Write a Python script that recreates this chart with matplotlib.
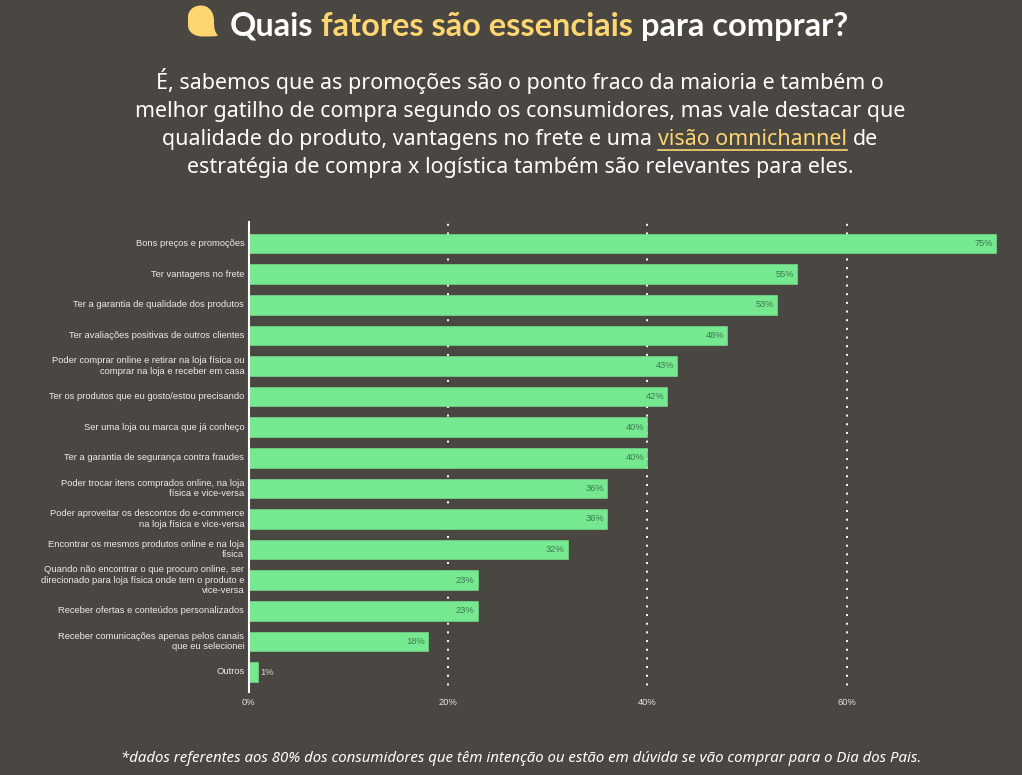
import matplotlib
matplotlib.use("Agg")
import matplotlib.pyplot as plt
from matplotlib.path import Path
from matplotlib.patches import PathPatch

BG = '#4a4641'
GREEN = '#76e88f'
YELLOW = '#fdd671'
WHITE = '#ffffff'

categories = [
    'Bons preços e promoções',
    'Ter vantagens no frete',
    'Ter a garantia de qualidade dos produtos',
    'Ter avaliações positivas de outros clientes',
    'Poder comprar online e retirar na loja física ou\ncomprar na loja e receber em casa',
    'Ter os produtos que eu gosto/estou precisando',
    'Ser uma loja ou marca que já conheço',
    'Ter a garantia de segurança contra fraudes',
    'Poder trocar itens comprados online, na loja\nfísica e vice-versa',
    'Poder aproveitar os descontos do e-commerce\nna loja física e vice-versa',
    'Encontrar os mesmos produtos online e na loja\nfísica',
    'Quando não encontrar o que procuro online, ser\ndirecionado para loja física onde tem o produto e\nvice-versa',
    'Receber ofertas e conteúdos personalizados',
    'Receber comunicações apenas pelos canais\nque eu selecionei',
    'Outros',
]
values = [75, 55, 53, 48, 43, 42, 40, 40, 36, 36, 32, 23, 23, 18, 1]
x_ticks = [0, 20, 40, 60]

title_runs = [('Quais ', WHITE), ('fatores são essenciais ', YELLOW), ('para comprar?', WHITE)]
subtitle_lines = [
    [('É, sabemos que as promoções são o ponto fraco da maioria e também o', WHITE)],
    [('melhor gatilho de compra segundo os consumidores, mas vale destacar que', WHITE)],
    [('qualidade do produto, vantagens no frete e uma ', WHITE), ('visão omnichannel', YELLOW), (' de', WHITE)],
    [('estratégia de compra x logística também são relevantes para eles.', WHITE)],
]
footnote = '*dados referentes aos 80% dos consumidores que têm intenção ou estão em dúvida se vão comprar para o Dia dos Pais.'

W, H = 1022, 775
TEXT_CENTER = 520
fig = plt.figure(figsize=(W / 100, H / 100), dpi=100, facecolor=BG)

# full-figure layer in pixel units for the header and footer
bg = fig.add_axes([0, 0, 1, 1])
bg.set_xlim(0, W)
bg.set_ylim(H, 0)
bg.axis('off')


def draw_runs(y, runs, x0=None, **kw):
    """Draw coloured text pieces on one baseline, centred on TEXT_CENTER unless x0 is given."""
    renderer = fig.canvas.get_renderer()
    # trailing spaces are dropped from extents, so measure pieces with a guard char
    guard = bg.text(0, 0, '|', **kw)
    guard_w = guard.get_window_extent(renderer).width
    guard.remove()
    widths = []
    for s, _ in runs:
        t = bg.text(0, 0, '|' + s + '|', **kw)
        widths.append(t.get_window_extent(renderer).width - 2 * guard_w)
        t.remove()
    x = TEXT_CENTER - sum(widths) / 2 if x0 is None else x0
    spans = []
    for (s, c), w in zip(runs, widths):
        lead = len(s) - len(s.lstrip())
        offs = 0
        if lead:
            t = bg.text(0, 0, '|' + ' ' * lead + '|', **kw)
            offs = t.get_window_extent(renderer).width - 2 * guard_w
            t.remove()
        bg.text(x + offs, y, s.strip(), color=c, va='baseline', ha='left', **kw)
        spans.append((x + offs, x + w))
        x += w
    return spans


title_kw = dict(family='Lato', fontsize=23.4, fontweight='bold')
draw_runs(36, title_runs, x0=230, **title_kw)

# speech bubble next to the title
bubble = Path(
    [(188, 17),
     (188, 10), (194, 5.5), (201, 5.5),
     (209, 5.5), (214, 12), (214, 21),
     (214, 27), (214.5, 32), (218, 35.5),
     (216, 36.5), (212, 36.5), (203, 36.5),
     (194, 36.5), (188, 32), (188, 25),
     (188, 17)],
    [Path.MOVETO] + [Path.CURVE4] * 15 + [Path.LINETO])
bg.add_patch(PathPatch(bubble, facecolor=YELLOW, edgecolor='none'))

sub_kw = dict(family='Noto Sans', fontsize=15.45)
for i, runs in enumerate(subtitle_lines):
    y = 89 + 28 * i
    spans = draw_runs(y, runs, **sub_kw)
    if i == 2:
        bg.plot([spans[1][0], spans[1][1]], [y + 5, y + 5], color=YELLOW, lw=1.2)

bg.text(521, 762, footnote, family='Noto Sans', style='italic', fontsize=10.77,
        color=WHITE, ha='center', va='baseline')

# bar chart, 9.97 px per percentage point from x=248.5
ax = fig.add_axes([248.5 / W, 1 - 692 / H, (1022 - 248.5) / W, (692 - 222) / H])
ax.patch.set_alpha(0)
ax.set_xlim(0, (1022 - 248.5) / 9.97)
ax.set_ylim(14 + 20 / 30.6, -21.5 / 30.6)

ax.barh(range(len(values)), values, height=0.64, color=GREEN, edgecolor=GREEN,
        linewidth=0.4, joinstyle='round', zorder=2)

for x in x_ticks[1:]:
    ax.axvline(x, color=WHITE, lw=1.4, linestyle=(1.08, (1.03, 3.43)), zorder=1)

for i, v in enumerate(values):
    if v > 5:
        ax.text(v - 0.3, i + 0.0, f'{v}%', ha='right', va='center', family='Liberation Sans',
                fontsize=6.75, color='#3f7a52', zorder=3)
    else:
        ax.text(v + 0.2, i + 0.03, f'{v}%', ha='left', va='center', family='Liberation Sans',
                fontsize=6.75, color='#d8d8d8', zorder=3)

ax.set_yticks(range(len(categories)))
ax.set_yticklabels(categories, family='Liberation Sans', fontsize=6.75, color='#ececec',
                   linespacing=1.18, va='center')
ax.tick_params(axis='y', length=0, pad=3.0)
ax.set_xticks(x_ticks)
ax.set_xticklabels([f'{x}%' for x in x_ticks], family='Liberation Sans', fontsize=6.75, color='#e4e4e4')
ax.tick_params(axis='x', length=0, pad=4)

for side in ['top', 'right', 'bottom']:
    ax.spines[side].set_visible(False)
ax.spines['left'].set_color(WHITE)
ax.spines['left'].set_linewidth(1.5)
ax.spines['left'].set_zorder(4)

fig.savefig('out.png', dpi=100, facecolor=BG)
